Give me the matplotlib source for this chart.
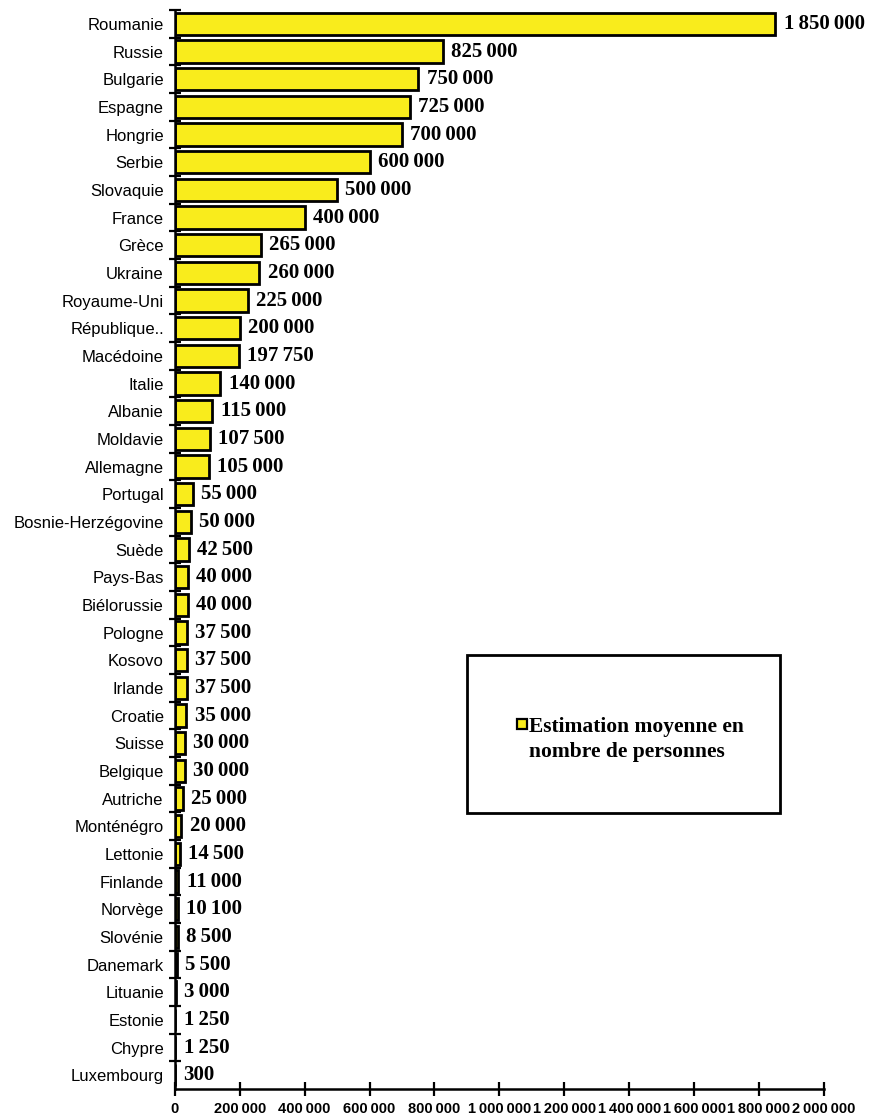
import matplotlib.pyplot as plt
from matplotlib.patches import Rectangle
from matplotlib.ticker import MultipleLocator, FixedLocator, FuncFormatter

# Data
countries = [
    "Roumanie", "Russie", "Bulgarie", "Espagne", "Hongrie", "Serbie",
    "Slovaquie", "France", "Grèce", "Ukraine", "Royaume-Uni", "République..",
    "Macédoine", "Italie", "Albanie", "Moldavie", "Allemagne", "Portugal",
    "Bosnie-Herzégovine", "Suède", "Pays-Bas", "Biélorussie", "Pologne",
    "Kosovo", "Irlande", "Croatie", "Suisse", "Belgique", "Autriche",
    "Monténégro", "Lettonie", "Finlande", "Norvège", "Slovénie", "Danemark",
    "Lituanie", "Estonie", "Chypre", "Luxembourg",
]
values = [
    1850000, 825000, 750000, 725000, 700000, 600000,
    500000, 400000, 265000, 260000, 225000, 200000,
    197750, 140000, 115000, 107500, 105000, 55000,
    50000, 42500, 40000, 40000, 37500,
    37500, 37500, 35000, 30000, 30000, 25000,
    20000, 14500, 11000, 10100, 8500, 5500,
    3000, 1250, 1250, 300,
]
legend_label = "Estimation moyenne en\nnombre de personnes"

bar_color = "#f9ec1c"


def fmt(v, sep="\u2009"):
    return f"{int(v):,}".replace(",", sep)


W, H = 870, 1115
fig = plt.figure(figsize=(W / 100, H / 100), dpi=100)
ax = fig.add_axes([0.201, 0.0233, 0.746, 0.9677])

pos = list(range(len(countries)))
bars = ax.barh(pos, values, height=0.8, color=bar_color, edgecolor="black", linewidth=2)

# value labels at the end of each bar
ax.bar_label(bars, labels=[fmt(v) for v in values], padding=6,
             fontsize=15, fontweight="bold", family="Liberation Serif")

ax.set_xlim(0, 2000000)
ax.set_ylim(len(countries) - 0.5, -0.5)

ax.set_yticks(pos)
ax.set_yticklabels(countries, family="Liberation Sans", fontsize=12)
ax.tick_params(axis="y", which="major", length=0, pad=8)
ax.yaxis.set_minor_locator(FixedLocator([p - 0.5 for p in pos]))
ax.tick_params(axis="y", which="minor", length=8, width=1.6, direction="inout")

ax.xaxis.set_major_locator(MultipleLocator(200000))
ax.xaxis.set_major_formatter(FuncFormatter(lambda v, _: fmt(v, "\u2009")))
ax.tick_params(axis="x", length=10, width=1.6, direction="inout", pad=4)
for lbl in ax.get_xticklabels():
    lbl.set_fontsize(10.5)
    lbl.set_fontweight("bold")
    lbl.set_family("Liberation Sans")

for s in ["top", "right"]:
    ax.spines[s].set_visible(False)
for s in ["left", "bottom"]:
    ax.spines[s].set_linewidth(1.8)

# Legend box (drawn by hand so the marker sits on the first line)
fig.patches.append(Rectangle((467 / W, 1 - 813 / H), 313 / W, 158 / H,
                             transform=fig.transFigure, facecolor="white",
                             edgecolor="black", linewidth=2))
fig.patches.append(Rectangle((517 / W, 1 - 729 / H), 10 / W, 10 / H,
                             transform=fig.transFigure, facecolor=bar_color,
                             edgecolor="black", linewidth=1.6))
for i, line in enumerate(legend_label.split("\n")):
    fig.text(529 / W, 1 - (732 + 25 * i) / H, line, ha="left", va="baseline",
             family="Liberation Serif", fontweight="bold", fontsize=15.5)

fig.savefig("out.png", dpi=100)
